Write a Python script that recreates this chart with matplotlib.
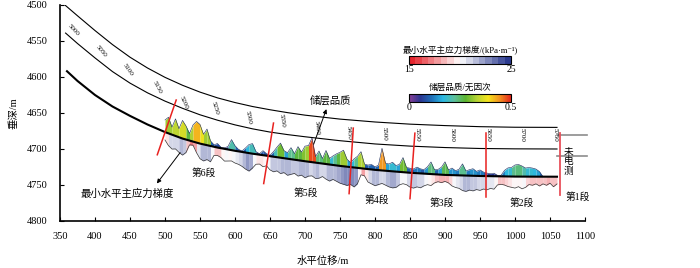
import numpy as np
import matplotlib
matplotlib.use("Agg")
import matplotlib.pyplot as plt
from matplotlib.colors import LinearSegmentedColormap, Normalize
from matplotlib.cm import ScalarMappable

plt.rcParams['font.family'] = ['Liberation Serif', 'Noto Sans CJK SC', 'DejaVu Sans']

# well trajectory (horizontal displacement, vertical depth)
traj_x = [360, 375, 400, 425, 450, 475, 500, 525, 550, 575, 600, 625, 650, 675, 700, 750, 800, 850, 900, 950, 1000, 1060]
traj_y = [4592, 4605.5, 4625, 4641, 4654, 4666, 4676.5, 4685.5, 4692.5, 4698, 4702.5, 4706.5, 4710, 4713.5,
          4717, 4723.5, 4729, 4733, 4736, 4737.5, 4738.3, 4738.5]

# the two thin guide curves above the trajectory
upper_x = [357, 375, 400, 425, 450, 475, 500, 525, 550, 575, 600, 625, 650, 675, 700, 750, 800, 850, 900, 950, 1000, 1060]
upper_y = [4500, 4515, 4535.5, 4555, 4572.5, 4587.5, 4600.5, 4611.5, 4621, 4629, 4635.5, 4641, 4645.5, 4649.5,
           4653, 4658.5, 4662.5, 4665.5, 4667.5, 4669, 4669.8, 4670]
mid_x = [358, 375, 400, 425, 450, 475, 500, 525, 550, 575, 600, 625, 650, 675, 700, 750, 800, 850, 900, 950, 1000, 1060]
mid_y = [4539, 4553.5, 4573.5, 4592.5, 4608.5, 4622, 4633.5, 4643.5, 4652.5, 4660, 4666.5, 4672, 4676.5, 4680,
         4683, 4688.5, 4693, 4696, 4698, 4699.3, 4699.8, 4700]

# measured depth labels along the path
md_labels = [5000, 5050, 5100, 5150, 5200, 5250, 5300, 5350, 5400, 5450, 5500, 5550, 5600, 5650, 5700, 5750]
md_label_x = [369, 409, 447, 489, 527, 571, 619, 667, 717, 763, 813, 860, 910, 961, 1010, 1058]
md_label_y = [4535, 4565, 4590, 4614, 4636, 4643, 4656, 4661, 4671, 4678, 4679, 4680, 4680, 4680, 4680, 4680]
md_label_rot = [-47, -50, -55, -62, -66, -73, -79, -82, -84, -86, -88, -89, -90, -90, -90, -90]

# log samples every 5 m of horizontal displacement
log_x = list(range(500, 1065, 5))
quality = [0.24, 0.32, 0.15, 0.34, 0.17, 0.36, 0.27, 0.14, 0.33, 0.42, 0.38, 0.2, 0.32, 0.1,
           0.04, 0.08, 0.02, 0.02, 0.06, 0.21, 0.1, 0.04, 0.02, 0.09, 0.17, 0.2, 0.05, 0.02, 0.09, 0.04, 0.02,
           0.1, 0.2, 0.29, 0.15, 0.12, 0.23, 0.12, 0.27, 0.17, 0.3, 0.32, 0.48, 0.12, 0.24, 0.1, 0.27, 0.12,
           0.18, 0.23, 0.27, 0.32, 0.15, 0.09,
           0.17, 0.23, 0.33, 0.09, 0.08, 0.1, 0.06, 0.1, 0.44, 0.15, 0.14, 0.18, 0.12,
           0.15, 0.29, 0.1, 0.09, 0.08, 0.12, 0.09, 0.08, 0.14, 0.24, 0.09, 0.1, 0.15, 0.26, 0.1, 0.14, 0.09,
           0.12, 0.23, 0.09, 0.12, 0.14, 0.09, 0.12, 0.08,
           0.06, 0.05, 0.06, 0.02, 0.02, 0.12, 0.17, 0.18, 0.23, 0.24, 0.21, 0.17, 0.18, 0.17, 0.15, 0.1,
           0.0, 0.0, 0.0, 0.0, 0.0]
stress = [17.5, 20.5, 22, 21, 22.5, 23.5, 21, 15, 14.5, 19,
          22.5, 23.5, 22, 23, 18, 17.5, 18.5, 20.5, 20, 19.5,
          20.5, 21, 22, 23.5, 24.5, 22, 19, 18.5, 20, 19,
          21.5, 22.5, 21.5, 23, 22, 23.5, 22.5, 21.5, 23, 22,
          23.5, 22, 21.5, 23, 22.5, 21, 22.5, 23.5, 22, 23,
          24, 24.5, 25, 24, 25.5, 23, 16.5, 17, 21, 22,
          23, 22, 21, 22, 23, 23.5, 23, 21, 20, 20.5,
          22, 22.5, 21.5, 22, 20.5, 19.5, 20, 18, 17, 17.5,
          16.5, 17.5, 19.5, 20.5, 21, 22.5, 23, 22, 22.5, 21.5,
          22, 21, 21.5, 20.5, 21, 18, 17.5, 18, 19, 19.5,
          20, 19, 20.5, 19.5, 17.5, 18, 17, 18.5, 17, 18,
          16.5, 19, 17]

# segment boundaries (red lines) and segment names
seg_x0 = [516, 655, 769, 857, 959]
seg_y0 = [4632, 4664, 4671, 4678, 4678]
seg_x1 = [489, 641, 763, 850, 959]
seg_y1 = [4708, 4748, 4762, 4769, 4766]
seg_names = ['第6段', '第5段', '第4段', '第3段', '第2段', '第1段']
seg_name_x = [556, 701, 803, 896, 1010, 1089]
seg_name_y = [4733, 4761, 4771, 4775, 4775, 4767]

q_cmap = LinearSegmentedColormap.from_list('quality', ['#8b3f97', '#2b3591', '#1f6fb8', '#2ab8e2', '#5bbf9c',
                                                       '#5cb531', '#b5d334', '#f5e41c', '#f3921f', '#e3241c'])
s_cmap = LinearSegmentedColormap.from_list('stress', ['#e6262e', '#ffffff', '#2b3a8f'], N=16)

fig = plt.figure(figsize=(7, 2.68), dpi=100)
ax = fig.add_axes([0.0857, 0.1754, 0.75, 0.806])

xs = np.array(log_x, dtype=float)
q = np.array(quality)
s = np.array(stress)
base = np.interp(xs, traj_x, traj_y)
q_top = base - q * 70
s_bot = base + (s - 12) * 2

# stress gradient fill below trajectory, one stripe per sample
for i in range(len(xs) - 1):
    v = (s[i] + s[i + 1]) / 2
    ax.fill_between(xs[i:i + 2], base[i:i + 2], s_bot[i:i + 2],
                    color=s_cmap((v - 15) / 10), alpha=0.6, lw=0)
ax.plot(xs, s_bot, color='#333333', lw=0.5)

# reservoir quality fill above trajectory, one stripe per sample
for i in range(len(xs) - 1):
    v = max(q[i], q[i + 1])
    if v <= 0:
        continue
    ax.fill_between(xs[i:i + 2], q_top[i:i + 2], base[i:i + 2],
                    color=q_cmap(min(v, 0.5) / 0.5), lw=0)
n = int(np.nonzero(q > 0)[0][-1]) + 2
ax.plot(xs[:n], q_top[:n], color='#1b2b5e', lw=0.4)

ax.plot(upper_x, upper_y, color='black', lw=0.8)
ax.plot(mid_x, mid_y, color='black', lw=0.8)
ax.plot(traj_x, traj_y, color='black', lw=1.5, zorder=5)

for lab, lx, ly, r in zip(md_labels, md_label_x, md_label_y, md_label_rot):
    ax.text(lx, ly, str(lab), fontsize=5, rotation=r, ha='center', va='center')

for i in range(len(seg_x0)):
    ax.plot([seg_x0[i], seg_x1[i]], [seg_y0[i], seg_y1[i]], color='#e8211f', lw=1.1, zorder=6)
ax.plot([1064, 1064], [4678, 4764], color='#e8505a', lw=1.3, clip_on=False, zorder=6)
ax.plot([1060, 1103], [4680.5, 4680.5], color='#8c8c8c', lw=1.2, clip_on=False)
ax.plot([1060, 1103], [4710, 4710], color='#8c8c8c', lw=1.2, clip_on=False)
ax.text(1076, 4718, '未\n电\n测', fontsize=7, ha='center', va='center', linespacing=1.0)

for name, nx, ny in zip(seg_names, seg_name_x, seg_name_y):
    ax.text(nx, ny, name, fontsize=7, ha='center', va='center', clip_on=False)

# annotations
ax.text(737, 4632, '储层品质', fontsize=7.5, ha='center', va='center')
ax.annotate('', xy=(732, 4641), xytext=(711, 4697),
            arrowprops=dict(arrowstyle='-|>', color='black', lw=0.7, mutation_scale=6))
ax.text(446, 4762, '最小水平主应力梯度', fontsize=7.5, ha='center', va='center')
ax.annotate('', xy=(486, 4751), xytext=(524, 4702),
            arrowprops=dict(arrowstyle='-|>', color='black', lw=0.7, mutation_scale=6))

ax.set_xlim(350, 1100)
ax.set_ylim(4800, 4500)
ax.set_xticks(range(350, 1101, 50))
ax.set_yticks(range(4500, 4801, 50))
ax.spines['top'].set_visible(False)
ax.spines['right'].set_visible(False)
ax.spines['left'].set_linewidth(1.2)
ax.spines['bottom'].set_linewidth(1.2)
ax.tick_params(axis='both', direction='in', length=3, width=0.8, labelsize=7.5)
ax.tick_params(axis='y', pad=9)
ax.tick_params(axis='x', pad=8)
ax.set_xlabel('水平位移/m', fontsize=7.5, labelpad=11)
ax.set_ylabel('垂深/m', fontsize=7.5, labelpad=6)

# colorbars
cax1 = fig.add_axes([0.584, 0.761, 0.146, 0.030])
cb1 = fig.colorbar(ScalarMappable(norm=Normalize(15, 25), cmap=s_cmap), cax=cax1, orientation='horizontal')
cb1.set_ticks([15, 25])
cax2 = fig.add_axes([0.584, 0.619, 0.146, 0.030])
cb2 = fig.colorbar(ScalarMappable(norm=Normalize(0, 0.5), cmap=q_cmap), cax=cax2, orientation='horizontal')
cb2.set_ticks([0, 0.5])
cb2.set_ticklabels(['0', '0.5'])
for cb in (cb1, cb2):
    cb.outline.set_linewidth(0.8)
    cb.ax.tick_params(length=0, labelsize=7, pad=1)
fig.text(0.657, 0.813, '最小水平主应力梯度/(kPa·m⁻¹)', fontsize=6.2, ha='center', va='center')
fig.text(0.657, 0.672, '储层品质/无因次', fontsize=6.2, ha='center', va='center')

fig.savefig('out.png', dpi=100)
